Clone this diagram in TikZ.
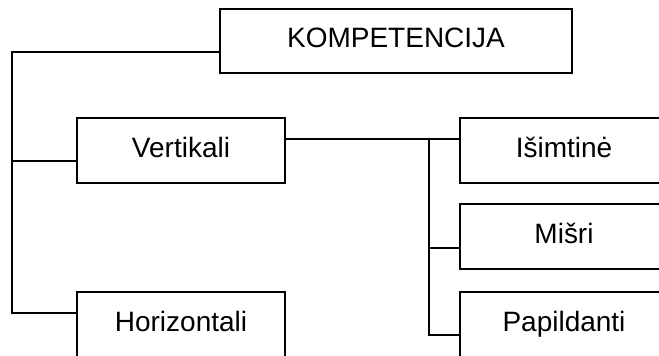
\documentclass[tikz,border=0pt]{standalone}
\usepackage{fontspec}
\setmainfont{Liberation Sans}
\usetikzlibrary{positioning}

\begin{document}
\begin{tikzpicture}[x=1pt, y=-1pt, line width=1.1pt,
    box/.style={draw, minimum width=208pt, minimum height=65pt, inner sep=0pt,
      font=\fontsize{28}{32}\selectfont, text height=20pt, text depth=7pt}]
        \clip (0,0) rectangle (659,356);
        % Top box
        \node[box, minimum width=352pt, minimum height=64pt] (komp) at (396,41) {KOMPETENCIJA};

        % Left column
        \node[box] (vert) at (181,150.5) {Vertikali};
        \node[box] (horiz) at (181,324.5) {Horizontali};

        % Right column
        \node[box] (isim) at (564,150.5) {Išimtinė};
        \node[box] (misri) at (564,236.5) {Mišri};
        \node[box] (papil) at (564,324.5) {Papildanti};

        % Left trunk
        \coordinate (ltop) at (12,52);
        \coordinate (lmid) at (12,161);
        \coordinate (lbot) at (12,313);
        \draw (komp.west |- ltop) -- (ltop) -- (lbot) -- (horiz.west |- lbot);
        \draw (lmid) -- (vert.west |- lmid);

        % Right trunk
        \coordinate (rtop) at (429,139);
        \coordinate (rmid) at (429,248);
        \coordinate (rbot) at (429,335);
        \draw (vert.east |- rtop) -- (isim.west |- rtop);
        \draw (rtop) -- (rbot) -- (papil.west |- rbot);
        \draw (rmid) -- (misri.west |- rmid);
\end{tikzpicture}
\end{document}
